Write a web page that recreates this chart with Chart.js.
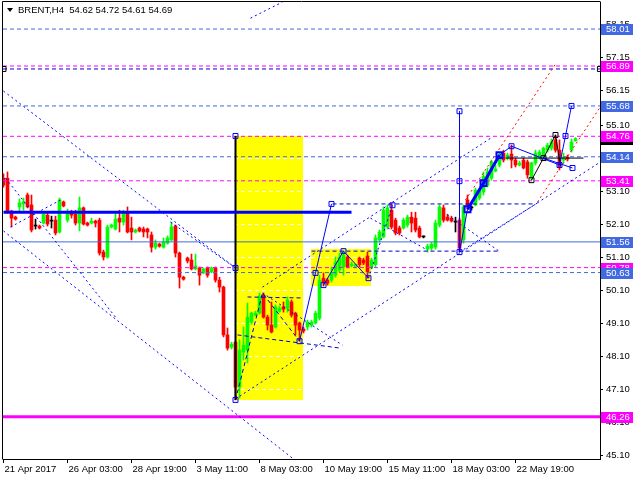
<!DOCTYPE html>
<html><head><meta charset="utf-8">
<script src="https://cdn.jsdelivr.net/npm/chart.js@4.4.1/dist/chart.umd.min.js"></script>
<style>html,body{margin:0;padding:0;background:#fff;overflow:hidden}canvas{display:block}</style>
</head><body>
<canvas id="c" width="640" height="480"></canvas>
<script>
// ---------- DATA ----------
const symbolTitle = 'BRENT,H4  54.62 54.72 54.61 54.69';
const xTickIndex = [0,16,32,48,64,80,96,112,128];
const xTickLabels = ['21 Apr 2017','26 Apr 03:00','28 Apr 19:00','3 May 11:00','8 May 03:00','10 May 19:00','15 May 11:00','18 May 03:00','22 May 19:00'];
const yTickValues = [45.10,46.10,47.10,48.10,49.10,50.10,51.10,52.10,53.10,54.10,55.10,56.15,57.15,58.15];

const opens = [
53.49,53.49,52.49,52.31,52.62,52.71,52.98,52.68,52.04,52.04,
52.13,52.37,52.19,52.22,51.86,52.77,52.22,52.43,52.40,52.13,
52.59,52.13,52.13,52.19,52.22,51.25,51.10,52.01,51.95,52.28,
52.16,52.43,51.98,51.86,51.98,51.95,51.95,51.77,51.40,51.49,
51.40,51.52,51.62,52.04,51.22,50.49,51.07,51.01,50.74,50.77,
50.62,50.77,50.65,50.77,50.40,50.19,48.74,48.37,48.52,47.16,
48.22,48.28,49.13,49.34,49.40,49.95,49.28,49.04,48.98,49.46,
49.59,49.55,49.74,49.40,49.10,48.92,48.98,49.04,49.10,49.25,
50.46,50.40,50.40,50.55,50.71,50.80,51.10,50.83,50.80,51.07,
51.01,51.13,50.80,50.87,51.62,51.71,52.01,52.52,52.22,51.98,
51.98,52.07,52.31,52.28,51.98,51.71,51.34,51.37,51.40,52.07,
52.59,52.31,52.28,52.16,52.22,51.62,52.83,52.59,52.68,52.89,
53.07,53.28,53.49,53.71,53.89,54.25,54.10,54.22,54.04,53.89,
54.04,53.98,53.49,53.95,54.13,54.19,54.34,54.40,54.65,54.34,
54.04,54.13,54.34,54.62];
const highs = [
53.62,53.68,52.52,52.34,52.86,52.89,53.04,52.98,52.25,52.07,
52.43,52.43,52.34,52.34,52.89,52.80,52.55,52.52,52.52,52.92,
52.62,52.16,52.28,52.22,52.28,51.31,52.07,52.10,52.43,52.52,
52.52,52.62,52.31,51.95,52.01,52.01,51.98,51.86,51.62,51.52,
51.68,51.74,52.16,52.07,51.25,50.52,51.10,51.19,51.19,50.80,
50.77,50.80,50.80,50.80,50.49,50.22,48.95,48.52,48.55,48.59,
48.98,49.71,49.43,49.46,50.01,50.01,49.34,49.74,49.65,49.62,
49.74,49.89,49.80,49.43,49.13,48.98,49.19,49.19,49.46,50.55,
50.62,50.46,50.80,51.10,51.22,51.28,51.16,50.95,50.89,51.10,
51.07,51.25,51.07,51.77,51.92,52.62,52.68,52.71,52.28,52.04,
52.28,52.37,52.46,52.46,52.04,51.74,51.49,51.55,52.22,52.68,
52.68,52.40,52.34,52.31,52.28,52.68,52.98,52.65,53.19,53.19,
53.68,53.80,54.04,53.89,54.25,54.34,54.25,54.49,54.10,54.01,
54.10,54.04,53.98,54.34,54.34,54.43,54.55,54.68,54.80,54.65,
54.25,54.19,54.68,54.72];
const lows = [
53.22,52.43,52.01,52.22,52.46,52.52,52.59,51.86,51.95,51.95,
52.10,52.04,51.98,51.77,51.83,52.62,52.16,52.28,52.07,51.89,
52.07,52.04,52.10,52.01,51.16,51.01,51.07,51.98,51.92,51.86,
52.07,51.83,51.62,51.83,51.86,51.71,51.68,51.25,51.34,51.40,
51.37,51.49,51.59,51.10,50.16,50.40,50.92,50.71,50.71,50.25,
50.59,50.49,50.62,50.34,50.04,48.68,48.28,48.31,46.77,46.83,
47.98,47.89,49.07,49.31,49.37,49.25,48.89,48.80,48.95,49.43,
49.43,49.43,49.28,48.74,48.55,48.80,48.89,48.98,49.07,49.19,
50.22,50.25,50.34,50.49,50.65,50.55,50.77,50.80,50.77,50.80,
50.87,50.46,50.74,50.80,51.55,51.68,51.95,51.95,51.77,51.77,
51.95,52.01,51.86,51.86,51.68,51.68,51.25,51.31,51.34,52.01,
52.16,52.19,52.16,51.86,51.25,51.52,52.55,52.52,52.65,52.83,
52.98,53.22,53.43,53.68,53.83,53.98,54.04,53.80,53.83,53.86,
53.77,53.49,53.43,53.89,54.07,54.10,54.28,54.34,54.28,53.74,
53.95,54.01,54.28,54.61];
const closes = [
53.28,52.46,52.28,52.25,52.74,52.77,52.62,51.92,52.04,51.98,
52.40,52.10,52.19,51.83,52.83,52.65,52.46,52.37,52.13,52.59,
52.10,52.07,52.19,52.13,51.22,51.10,52.01,52.07,52.25,52.16,
52.43,51.86,51.86,51.92,51.89,51.86,51.86,51.40,51.52,51.43,
51.55,51.68,52.01,51.22,50.49,50.43,50.98,50.74,50.83,50.55,
50.74,50.55,50.77,50.40,50.19,48.74,48.34,48.46,47.16,48.28,
48.43,49.28,49.40,49.40,49.92,49.28,49.04,48.83,49.59,49.55,
49.52,49.80,49.34,49.04,48.89,48.86,49.13,49.13,49.40,50.40,
50.34,50.31,50.62,50.95,51.10,51.16,50.80,50.89,50.87,50.87,
50.92,50.65,51.01,51.68,51.86,52.52,52.59,52.01,51.83,51.83,
52.22,52.31,52.13,51.92,51.71,51.71,51.43,51.49,52.13,52.62,
52.22,52.22,52.19,52.16,51.37,52.62,52.62,52.59,53.13,53.13,
53.55,53.68,53.98,53.77,54.19,54.04,54.19,54.04,53.89,53.95,
53.80,53.59,53.95,54.25,54.28,54.40,54.49,54.59,54.34,53.83,
54.13,54.07,54.59,54.69];

// horizontal levels (price)
const levelsBlueDashed = [58.01, 55.68, 54.14, 50.63];
const levelsMagentaDashed = [56.89, 54.76, 53.41, 50.78];
const levelsNavyDashed = [56.80];
const levelBlueSolid = [51.56];
const levelMagentaSolid = [46.26];
// price labels on the axis: [value, kind]
const priceLabels = [[54.69,'last'],[58.01,'blue'],[56.89,'mag'],[55.68,'blue'],[54.76,'mag'],[54.14,'blue'],[53.41,'mag'],[51.56,'blue'],[50.78,'mag'],[50.63,'blue'],[46.26,'mag']];

// rectangles: [barFrom, priceTop, barTo, priceBottom]
const yellowBoxes = [[57.9,54.77,74.9,46.77],[76.9,51.34,91.9,50.22]];

// trend objects, points are [bar index, price]
const blueDottedLines = [
  [[0,56.13],[58,50.77]],
  [[41.75,52.16],[58,50.77]],
  [[0,51.89],[72.5,44.98]],
  [[0.5,53.49],[28,49.28]],
  [[1.75,52.01],[14.25,52.83]],
  [[58,46.80],[149.2,53.98]],
  [[64.75,50.19],[122.25,54.74]],
  [[61.75,58.34],[69.75,58.83]],
  [[114,51.25],[133.5,52.74]],
  [[91.75,52.28],[106,51.31]],
  [[111,52.37],[124.25,51.25]],
  [[64.75,50.01],[84.75,48.43]],
  [[91.25,50.46],[97.25,52.67]]
];
const navyDashedLines = [
  [[82.25,52.71],[132.5,52.71]],
  [[77,51.28],[124.25,51.28]],
  [[58.5,48.74],[84.25,48.34]],
  [[61,49.89],[75,49.86]],
  [[58,46.77],[64.75,50.01],[74,48.55]]
];
const blueThinLines = [
  [[74,48.55],[78,50.62],[82,52.71]],
  [[80,50.25],[85,51.28],[91.25,50.46]],
  [[114,51.25],[116,52.55]],
  [[124,54.19],[127,54.46],[139,53.89],[140.5,54.77],[142,55.68]],
  [[135,54.10],[142.25,53.80]],
  [[114,55.52],[114,51.25]]
];
const blueThickLines = [
  [[116,52.55],[120,53.34],[124,54.19]],
  [[0,52.46],[87,52.46]]
];
const blackLines = [
  [[132,53.43],[135,54.10],[138,54.80],[139.25,53.86]],
  [[125.5,54.10],[145,54.10]]
];
const blackVertical = [[58,54.77],[58,46.77]];
const redDottedLines = [
  [[115.5,52.83],[138,56.95]],
  [[133.5,52.77],[149.2,55.65]]
];
const blueSquares = [[58,54.77],[58,50.77],[58,46.77],[74,48.55],[78,50.62],[82,52.71],[80,50.25],[85,51.28],[91.25,50.46],[97.25,52.67],[114,55.52],[114,53.40],[114,51.25],[127,54.46],[139,53.89],[140.5,54.77],[142,55.68],[142.25,53.80]];
const blueThickSquares = [[116,52.55],[120,53.34],[124,54.19]];
const blackSquares = [[132,53.43],[135,54.10],[138,54.80],[0,56.80],[149.1,56.80]];

// ---------- STYLE / BUILD ----------
const FONT = 'Liberation Sans';
const FSIZE = 9.5;
const X_MIN = -0.125, X_MAX = 149.125;
const Y_MIN = 44.98, Y_MAX = 58.83;
const C = {blue:'#4169E1', mag:'#FF00FF', navy:'#0000CD', dot:'#0000FF', red:'#FF0000', up:'#00FF00', down:'#FF0000', doji:'#000000'};

const candleColors = opens.map((o,i)=> closes[i]>o ? C.up : (closes[i]<o ? C.down : C.doji));
const wickData = opens.map((o,i)=>({x:i, y:[lows[i], highs[i]]}));
const bodyData = opens.map((o,i)=>({x:i, y:[Math.min(o,closes[i]), Math.max(o,closes[i])]}));

const datasets = [];
datasets.push({type:'bar', data:wickData, backgroundColor:candleColors, barThickness:1, grouped:false, order:20, borderWidth:0});
datasets.push({type:'bar', data:bodyData, backgroundColor:candleColors, barThickness:3, grouped:false, order:19, borderWidth:0, minBarLength:1});

function addLine(pts, color, width, dash, order){
  datasets.push({type:'line', data:pts.map(p=>({x:p[0], y:p[1]})), borderColor:color, borderWidth:width, borderDash:dash, pointRadius:0, fill:false, tension:0, order:order});
}
levelsBlueDashed.forEach(v=>addLine([[X_MIN,v],[X_MAX,v]], C.blue, 1, [4,3], 6));
levelsMagentaDashed.forEach(v=>addLine([[X_MIN,v],[X_MAX,v]], C.mag, 1, [4,3], 6));
levelsNavyDashed.forEach(v=>addLine([[X_MIN,v],[X_MAX,v]], C.navy, 1, [4,3], 6));
levelBlueSolid.forEach(v=>addLine([[X_MIN,v],[X_MAX,v]], C.blue, 1, [], 6));
levelMagentaSolid.forEach(v=>addLine([[X_MIN,v],[X_MAX,v]], C.mag, 3, [], 6));
blueDottedLines.forEach(s=>addLine(s, C.dot, 1, [2,3], 5));
navyDashedLines.forEach(s=>addLine(s, C.navy, 1, [4,3], 5));
redDottedLines.forEach(s=>addLine(s, C.red, 1, [2,3], 5));
blueThinLines.forEach(s=>addLine(s, C.dot, 1, [], 4));
blackLines.forEach(s=>addLine(s, '#000', 1, [], 4));
addLine(blackVertical, '#000', 2, [], 4);
blueThickLines.forEach(s=>addLine(s, C.dot, 3, [], 3));
function addSquares(pts, color, r, w){
  datasets.push({type:'line', showLine:false, data:pts.map(p=>({x:p[0], y:p[1]})), pointStyle:'rect', pointRadius:r, pointBorderColor:color, pointBackgroundColor:'rgba(255,255,255,0)', pointBorderWidth:w, borderColor:color, order:1});
}
addSquares(blueSquares, C.dot, 3.5, 1);
addSquares(blueThickSquares, C.dot, 4.2, 2);
addSquares(blackSquares, '#000', 3.5, 1);

const mtPlugin = {
  id:'mt',
  beforeDatasetsDraw(chart){
    const {ctx, chartArea:a, scales:{x,y}} = chart;
    ctx.save();
    ctx.beginPath(); ctx.rect(a.left, a.top, a.right-a.left, a.bottom-a.top); ctx.clip();
    ctx.fillStyle = '#FFFF00';
    yellowBoxes.forEach(b=>{
      const x0=x.getPixelForValue(b[0]), x1=x.getPixelForValue(b[2]);
      const y0=y.getPixelForValue(b[1]), y1=y.getPixelForValue(b[3]);
      ctx.fillRect(Math.round(Math.min(x0,x1)), Math.round(Math.min(y0,y1)), Math.round(Math.abs(x1-x0)), Math.round(Math.abs(y1-y0)));
    });
    ctx.strokeStyle = '#FFFFFF'; ctx.lineWidth = 1; ctx.setLineDash([4,3]);
    yTickValues.forEach(v=>{
      const py = Math.round(y.getPixelForValue(v)) + 0.5;
      ctx.beginPath(); ctx.moveTo(a.left, py); ctx.lineTo(a.right, py); ctx.stroke();
    });
    ctx.restore();
  },
  afterDatasetsDraw(chart){
    const {ctx, chartArea:a, scales:{y}} = chart;
    ctx.save();
    ctx.strokeStyle = '#000'; ctx.lineWidth = 1; ctx.setLineDash([]);
    ctx.beginPath();
    ctx.moveTo(a.left-0.5, a.bottom+0.5); ctx.lineTo(a.left-0.5, a.top-0.5); ctx.lineTo(a.right+0.5, a.top-0.5);
    ctx.stroke();
    // price labels
    ctx.font = FSIZE + 'px "' + FONT + '"';
    ctx.textBaseline = 'middle'; ctx.textAlign = 'left';
    priceLabels.forEach(p=>{
      const py = Math.round(y.getPixelForValue(p[0]));
      ctx.fillStyle = p[1]==='blue' ? C.blue : (p[1]==='mag' ? C.mag : '#000');
      ctx.fillRect(a.right+1, py-5, 32, 11);
      ctx.fillStyle = '#FFFFFF';
      ctx.fillText(p[0].toFixed(2), a.right+6, py+0.5);
    });
    // title
    ctx.fillStyle = '#000';
    ctx.beginPath(); ctx.moveTo(7,8); ctx.lineTo(13,8); ctx.lineTo(10,12); ctx.closePath(); ctx.fill();
    ctx.fillText(symbolTitle, 18, 10.5);
    ctx.restore();
  }
};

new Chart(document.getElementById('c'), {
  type:'bar',
  data:{datasets},
  options:{
    responsive:false, animation:false, devicePixelRatio:1,
    layout:{autoPadding:false, padding:{left:3, top:2, right:0, bottom:0}},
    plugins:{legend:{display:false}, tooltip:{enabled:false}, title:{display:false}},
    font:{family:FONT, size:FSIZE},
    scales:{
      x:{type:'linear', min:X_MIN, max:X_MAX, offset:false,
        grid:{drawOnChartArea:false, drawTicks:true, tickLength:4, tickColor:'#000', offset:false},
        border:{display:true, color:'#000', width:1},
        afterBuildTicks:s=>{ s.ticks = xTickIndex.map(v=>({value:v})); },
        afterFit:s=>{ s.height = 21; s.paddingLeft = 0; s.paddingRight = 0; },
        ticks:{autoSkip:false, maxRotation:0, minRotation:0, align:'start', labelOffset:1, padding:1, color:'#000', font:{family:FONT, size:FSIZE},
          callback:(v)=>{ const k = xTickIndex.indexOf(v); return k>=0 ? xTickLabels[k] : ''; }}
      },
      y:{type:'linear', position:'right', min:Y_MIN, max:Y_MAX,
        grid:{drawOnChartArea:false, drawTicks:true, tickLength:3, tickColor:'#000'},
        border:{display:true, color:'#000', width:1},
        afterBuildTicks:s=>{ s.ticks = yTickValues.map(v=>({value:v})); },
        afterFit:s=>{ s.width = 40; s.paddingTop = 0; s.paddingBottom = 0; },
        ticks:{padding:3, color:'#000', font:{family:FONT, size:FSIZE}, callback:(v)=>Number(v).toFixed(2)}
      }
    }
  },
  plugins:[mtPlugin]
});
</script>
</body></html>
